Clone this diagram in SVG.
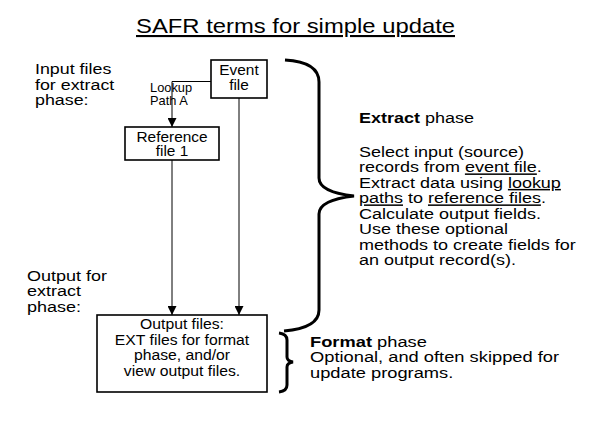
<svg xmlns="http://www.w3.org/2000/svg" width="589" height="443" viewBox="0 0 589 443">
<style>
text{font-family:"Liberation Sans",Arial,sans-serif;fill:#000;}
.t{font-size:15px;}
.b{font-size:14px;}
.s{font-size:12px;}
.box{fill:#fff;stroke:#000;stroke-width:1.6;}
.ln{fill:none;stroke:#000;stroke-width:1;}
.br{fill:none;stroke:#000;stroke-width:3;}
.u{text-decoration:underline;}
</style>
<defs>
<marker id="ah" viewBox="0 0 10 10" refX="10" refY="5" markerWidth="10" markerHeight="9" markerUnits="userSpaceOnUse" orient="auto">
<path d="M0,0 L10,5 L0,10 Z" fill="#000"/>
</marker>
</defs>
<rect width="589" height="443" fill="#fff"/>
<text x="136" y="33" font-size="21" textLength="319" lengthAdjust="spacingAndGlyphs" text-decoration="underline">SAFR terms for simple update</text>

<g id="label-input" transform="translate(35,0) scale(1.19,1)">
<text class="t" x="0" y="74.5">Input files</text>
<text class="t" x="0" y="90">for extract</text>
<text class="t" x="0" y="105.5">phase:</text>
</g>
<g id="label-output" transform="translate(27,0) scale(1.2,1)">
<text class="t" x="0" y="281">Output for</text>
<text class="t" x="0" y="296.5">extract</text>
<text class="t" x="0" y="312">phase:</text>
</g>

<g id="connectors">
<path class="ln" d="M211,81.5 H172 V127" marker-end="url(#ah)"/>
<path class="ln" d="M172,160 V315" marker-end="url(#ah)"/>
<path class="ln" d="M239,98 V315" marker-end="url(#ah)"/>
<g transform="translate(150,0) scale(1.07,1)">
<text class="s" x="0" y="92.5">Lookup</text>
<text class="s" x="0" y="105.5">Path A</text>
</g>
</g>

<g id="event-file">
<rect class="box" x="211" y="60" width="56" height="38"/>
<g transform="translate(239,0) scale(1.1,1)">
<text class="b" x="0" y="75.5" text-anchor="middle">Event</text>
<text class="b" x="0" y="90" text-anchor="middle">file</text>
</g>
</g>

<g id="reference-file">
<rect class="box" x="125" y="127" width="94" height="33"/>
<g transform="translate(172,0) scale(1.1,1)">
<text class="b" x="0" y="142" text-anchor="middle">Reference</text>
<text class="b" x="0" y="156.5" text-anchor="middle">file 1</text>
</g>
</g>

<g id="output-files">
<rect class="box" x="97" y="315" width="170" height="77"/>
<g transform="translate(182,0) scale(1.05,1)">
<text class="t" x="0" y="329.5" text-anchor="middle">Output files:</text>
<text class="t" x="0" y="345" text-anchor="middle">EXT files for format</text>
<text class="t" x="0" y="360.5" text-anchor="middle">phase, and/or</text>
<text class="t" x="0" y="376" text-anchor="middle">view output files.</text>
</g>
</g>

<g id="extract-phase">
<path class="br" d="M285,60 Q319,62 319,82 L319,178 Q319,192 354,196 Q319,200 319,214 L319,310 Q319,328 284,331"/>
<g transform="translate(359,0) scale(1.2,1)">
<text class="t" x="0" y="123.5"><tspan font-weight="bold">Extract</tspan> phase</text>
<text class="t" x="0" y="157">Select input (source)</text>
<text class="t" x="0" y="172.5">records from <tspan class="u">event file</tspan>.</text>
<text class="t" x="0" y="188">Extract data using <tspan class="u">lookup</tspan></text>
<text class="t" x="0" y="203.5"><tspan class="u">paths</tspan> to <tspan class="u">reference files</tspan>.</text>
<text class="t" x="0" y="219">Calculate output fields.</text>
<text class="t" x="0" y="234.5">Use these optional</text>
<text class="t" x="0" y="250">methods to create fields for</text>
<text class="t" x="0" y="265.5">an output record(s).</text>
</g>
</g>

<g id="format-phase">
<path class="br" stroke-width="2.2" d="M279,333 Q287,334 287,340 L287,357 Q287,361 293,362 Q287,363 287,367 L287,385 Q287,391 279,392"/>
<g transform="translate(310,0) scale(1.22,1)">
<text class="t" x="0" y="347"><tspan font-weight="bold">Format</tspan> phase</text>
<text class="t" x="0" y="362.5">Optional, and often skipped for</text>
<text class="t" x="0" y="378">update programs.</text>
</g>
</g>
</svg>
